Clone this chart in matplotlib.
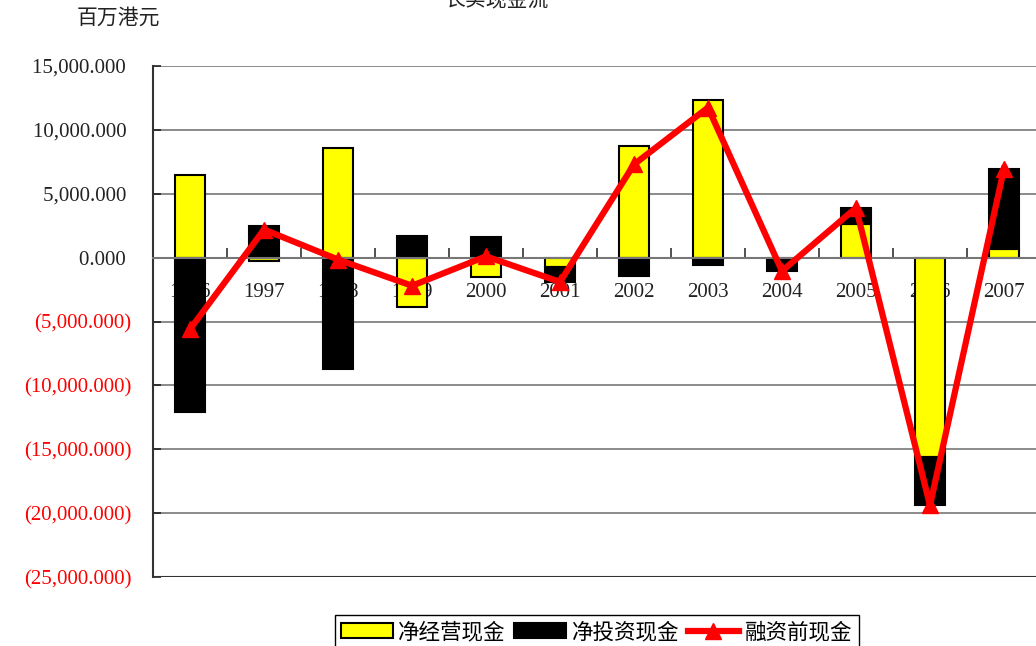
import numpy as np
import matplotlib
matplotlib.use("Agg")
from matplotlib import pyplot as plt
from matplotlib.ticker import FixedLocator, FuncFormatter

# 长实 cash flow, HK$ million
years = ["1996", "1997", "1998", "1999", "2000", "2001",
         "2002", "2003", "2004", "2005", "2006", "2007"]
operating = [6500, -250, 8600, -3900, -1550, -700,
             8750, 12350, -150, 2650, -15600, 650]
investing = [-12100, 2450, -8750, 1700, 1650, -1200,
             -1450, -600, -900, 1250, -3800, 6300]
before_financing = [-5600, 2200, -150, -2200, 100, -1900,
                    7300, 11750, -1050, 3900, -19400, 6950]

plt.rcParams['font.family'] = ['Liberation Serif', 'Noto Sans CJK SC', 'DejaVu Sans']
cjk = ['Noto Sans CJK SC', 'DejaVu Sans']

fig = plt.figure(figsize=(10.36, 6.46), dpi=100)
ax = fig.add_axes([0.1477, 0.1068, 0.8571, 0.7910])

x = np.arange(len(years))
op = np.array(operating)
inv = np.array(investing)
# excel-style stacking: same sign stacks on top, opposite sign starts at zero
inv_bottom = np.where(np.sign(op) == np.sign(inv), op, 0)

b1 = ax.bar(x, op, width=0.4, color='#FFFF00', edgecolor='black', linewidth=1.5,
            zorder=2, label='净经营现金')
b2 = ax.bar(x, inv, width=0.4, bottom=inv_bottom, color='black', edgecolor='black',
            linewidth=1.5, zorder=2, label='净投资现金')
ln, = ax.plot(x, before_financing, color='#FF0000', linewidth=4.5, marker='^',
              markersize=11, zorder=3, label='融资前现金')

ax.set_xlim(-0.5, len(years) - 0.5)
ax.set_ylim(-25000, 15000)
ax.set_axisbelow(True)

# value axis
ax.yaxis.set_major_locator(FixedLocator(np.arange(-25000, 15001, 5000)))


def fmt(v, pos):
    if v < 0:
        return "({:,.3f})".format(-v)
    return "{:,.3f} ".format(v)


ax.yaxis.set_major_formatter(FuncFormatter(fmt))
ax.tick_params(axis='y', direction='in', length=6, width=1.2, pad=15.5,
               labelsize=15, colors='#222222')
for lab in ax.get_yticklabels():
    if lab.get_text().startswith('('):
        lab.set_color('#FF0000')
ax.grid(axis='y', color='#777777', linewidth=1.2)

# category axis sits on zero, boundary ticks point up
ax.spines['bottom'].set_position(('data', 0))
ax.spines['bottom'].set_color('#777777')
ax.spines['bottom'].set_linewidth(1.5)
ax.spines['top'].set_visible(False)
ax.spines['right'].set_visible(False)
ax.spines['left'].set_linewidth(1.5)
ax.spines['left'].set_color('#333333')
ax.set_xticks(x)
ax.set_xticklabels(years)
ax.set_xticks(x[:-1] + 0.5, minor=True)
ax.tick_params(axis='x', which='major', length=0, pad=18, labelsize=15,
               colors='#222222')
ax.tick_params(axis='x', which='minor', direction='in', length=7, width=1.2,
               color='#333333')
ax.axhline(-25000, color='#333333', linewidth=1.5, zorder=1)

fig.text(0.48, 1.0, '长实现金流', ha='center', va='center', fontsize=15,
         family=cjk, color='#222222')
fig.text(0.114, 0.972, '百万港元', ha='center', va='center', fontsize=15,
         family=cjk, color='#222222')

leg = fig.legend(handles=[b1, b2, ln], loc='upper center',
                 bbox_to_anchor=(0.576, 0.048), ncol=3,
                 frameon=True, fancybox=False, edgecolor='black', framealpha=1,
                 borderaxespad=0, handlelength=2.4, handletextpad=0.25,
                 columnspacing=0.4, borderpad=0.3,
                 prop={'family': cjk, 'size': 15.5})
leg.get_frame().set_linewidth(1.0)

fig.savefig('out.png', dpi=100)
